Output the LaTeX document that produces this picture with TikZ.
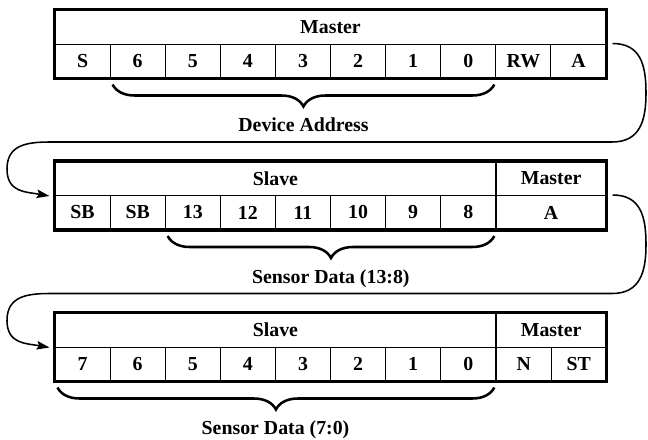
\documentclass[tikz,border=0pt]{standalone}
\usepackage{fontspec}
\setmainfont{Liberation Serif}
\usetikzlibrary{arrows.meta,decorations.pathreplacing}

\newcommand{\cellfont}{\fontsize{14.1pt}{16pt}\selectfont\bfseries}

\tikzset{
  cell/.style={draw, line width=0.7pt, inner sep=0pt, minimum height=0.85cm,
    minimum width=1.3775cm, font=\cellfont},
  frame/.style={line width=2.2pt},
  link/.style={line width=1.1pt, looseness=1.2,
    -{Stealth[length=9pt,width=6pt,inset=1.5pt]}},
  bracket/.style={decorate, decoration={brace, mirror, amplitude=0.55cm},
    line width=1.8pt},
  note/.style={font=\cellfont, anchor=base},
}

\begin{document}
\begin{tikzpicture}[x=0.025cm, y=0.025cm]
  \useasboundingbox (0,0) rectangle (648,-439);
  % first byte: the master sends the address
  \node[cell, minimum width=13.775cm] (mhead) at (330.5,-27) {Master};
  \foreach \b [count=\i from 0] in {S,6,5,4,3,2,1,0,RW,A}{
    \node[cell] (m\i) at ({82.55+55.1*\i},-61) {\b};
  }
  \draw[frame] (mhead.north west) rectangle (m9.south east);
  \draw[bracket] ([shift={(3,-6)}]m1.south west) -- ([shift={(-2,-6)}]m7.south east);
  \node[note] (addr) at (303.5,-132) {Device Address};

  % second byte: high part of the data
  \node[cell, minimum width=11.02cm] (shead) at (275.4,-178.5) {Slave};
  \node[cell, minimum width=2.755cm] (smhead) at (551.1,-178.5) {Master};
  \foreach \b [count=\i from 0] in {SB,SB,13,12,11,10,9,8}{
    \node[cell] (s\i) at ({82.55+55.1*\i},-212.5) {\b};
  }
  \node[cell, minimum width=2.755cm] (sack) at (551.1,-212.5) {A};
  \draw[frame] (shead.north west) rectangle (sack.south east);
  \draw[bracket] ([shift={(3,-6)}]s2.south west) -- ([shift={(-2,-6)}]s7.south east);
  \node[note] (hidata) at (330.8,-283) {Sensor Data (13:8)};

  % third byte: low part of the data
  \node[cell, minimum width=11.02cm] (dhead) at (275.4,-330) {Slave};
  \node[cell, minimum width=2.755cm] (dmhead) at (551.1,-330) {Master};
  \foreach \b [count=\i from 0] in {7,6,5,4,3,2,1,0}{
    \node[cell] (d\i) at ({82.55+55.1*\i},-364) {\b};
  }
  \node[cell] (dn) at (523.65,-364) {N};
  \node[cell] (dst) at (578.75,-364) {ST};
  \draw[frame] (dhead.north west) rectangle (dst.south east);
  \draw[bracket] ([shift={(3,-6)}]d0.south west) -- ([shift={(-2,-6)}]d7.south east);
  \node[note] (lodata) at (275.5,-434) {Sensor Data (7:0)};

  % wrap-around links
  \draw[link] ([xshift=0.15cm]m9.north east) to[out=0,in=90] (646,-93)
    to[out=-90,in=0] (612,-142) -- (50,-142) to[out=180,in=90] (7,-169)
    to[out=-90,in=170] ([xshift=-0.125cm]shead.south west);
  \draw[link] ([xshift=0.15cm]sack.north east) to[out=0,in=90] (646,-244.5)
    to[out=-90,in=0] (612,-293.5) -- (50,-293.5) to[out=180,in=90] (7,-320.5)
    to[out=-90,in=170] ([xshift=-0.125cm]dhead.south west);
\end{tikzpicture}
\end{document}
